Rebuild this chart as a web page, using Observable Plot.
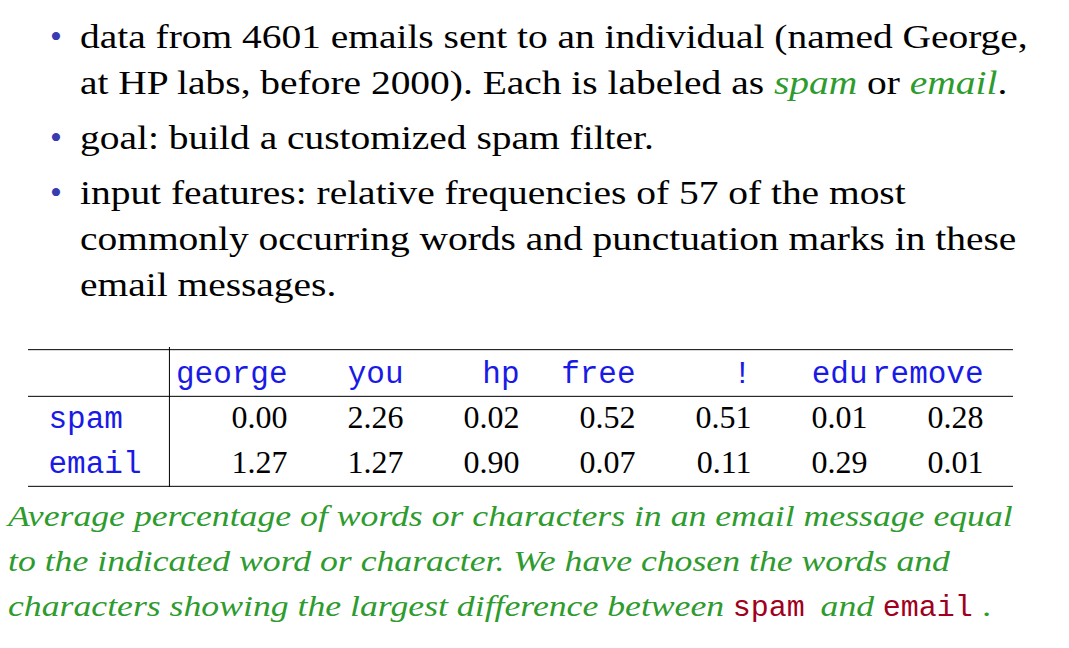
<!DOCTYPE html>
<html><head><meta charset="utf-8">
<script src="https://cdn.jsdelivr.net/npm/d3@7"></script>
<script src="https://cdn.jsdelivr.net/npm/@observablehq/plot@0.6"></script>
<style>
body{margin:0;width:1069px;height:648px;background:#fff;position:relative;overflow:hidden;font-family:"Liberation Serif",serif;}
#bullets{position:absolute;left:0;top:14px;font-size:33px;line-height:46px;color:#000;white-space:nowrap}
.b{position:relative;padding-left:80px;margin-bottom:9px}
.b::before{content:"\2022";position:absolute;left:50px;top:0;color:#3b3bb0;font-size:34px}
.t{display:inline-block;transform:scaleX(1.195);transform-origin:0 0}
.g{color:#2e9b2e;font-style:italic}
#tbl{position:absolute;left:0;top:340px}
#cap{position:absolute;left:8px;top:493px;font-size:30px;line-height:45px;font-style:italic;color:#2e9b2e;white-space:nowrap;transform:scaleX(1.19);transform-origin:0 0}
.m{font-family:"Liberation Mono",monospace;font-style:normal;color:#a00020;display:inline-block;transform:scaleX(0.84);transform-origin:0 0;margin-right:-6px}
</style></head><body>
<div id="bullets">
<div class="b"><span class="t">data from 4601 emails sent to an individual (named George,<br>at HP labs, before 2000). Each is labeled as <span class="g">spam</span> or <span class="g">email</span>.</span></div>
<div class="b"><span class="t">goal: build a customized spam filter.</span></div>
<div class="b"><span class="t">input features: relative frequencies of 57 of the most<br>commonly occurring words and punctuation marks in these<br>email messages.</span></div>
</div>
<div id="tbl"></div>
<div id="cap">Average percentage of words or characters in an email message equal<br>to the indicated word or character. We have chosen the words and<br>characters showing the largest difference between <span class="m">spam</span> and <span class="m">email</span>.</div>
<script>
const words = ["george","you","hp","free","!","edu","remove"];
const rowNames = ["spam","email"];
const spamVals = ["0.00","2.26","0.02","0.52","0.51","0.01","0.28"];
const emailVals = ["1.27","1.27","0.90","0.07","0.11","0.29","0.01"];
const rows = ["header", ...rowNames];
const cells = [];
words.forEach((w,i)=>{cells.push({col:w,row:"spam",v:spamVals[i]});cells.push({col:w,row:"email",v:emailVals[i]});});
const bw = (990-163)/words.length;
const serif = "Liberation Serif", mono = "Liberation Mono";
const plot = Plot.plot({
  width:1069,height:155,marginTop:7,marginBottom:8,marginLeft:28,marginRight:56,
  x:{type:"band",domain:words,range:[163,990],axis:null},
  y:{type:"band",domain:rows,axis:null},
  marks:[
    Plot.ruleY(["header"],{y:d=>d,dy:-70/3,stroke:"#000",strokeWidth:1}),
    Plot.ruleY(["header"],{y:d=>d,dy:70/3,stroke:"#000",strokeWidth:1}),
    Plot.ruleY(["email"],{y:d=>d,dy:70/3,stroke:"#000",strokeWidth:1}),
    Plot.ruleX([words[0]],{x:d=>d,dx:-bw/2,stroke:"#000",strokeWidth:1}),
    Plot.text(words,{x:d=>d,y:()=>"header",text:d=>d,textAnchor:"end",dx:bw/2,fontFamily:mono,fontSize:31,fill:"#1a1ae6"}),
    Plot.text(rowNames,{y:d=>d,text:d=>d,frameAnchor:"left",textAnchor:"start",dx:20,fontFamily:mono,fontSize:31,fill:"#1a1ae6"}),
    Plot.text(cells,{x:"col",y:"row",text:"v",textAnchor:"end",dx:bw/2,fontFamily:serif,fontSize:32,fill:"#000"})
  ]
});
document.getElementById("tbl").appendChild(plot);
</script>
</body></html>
